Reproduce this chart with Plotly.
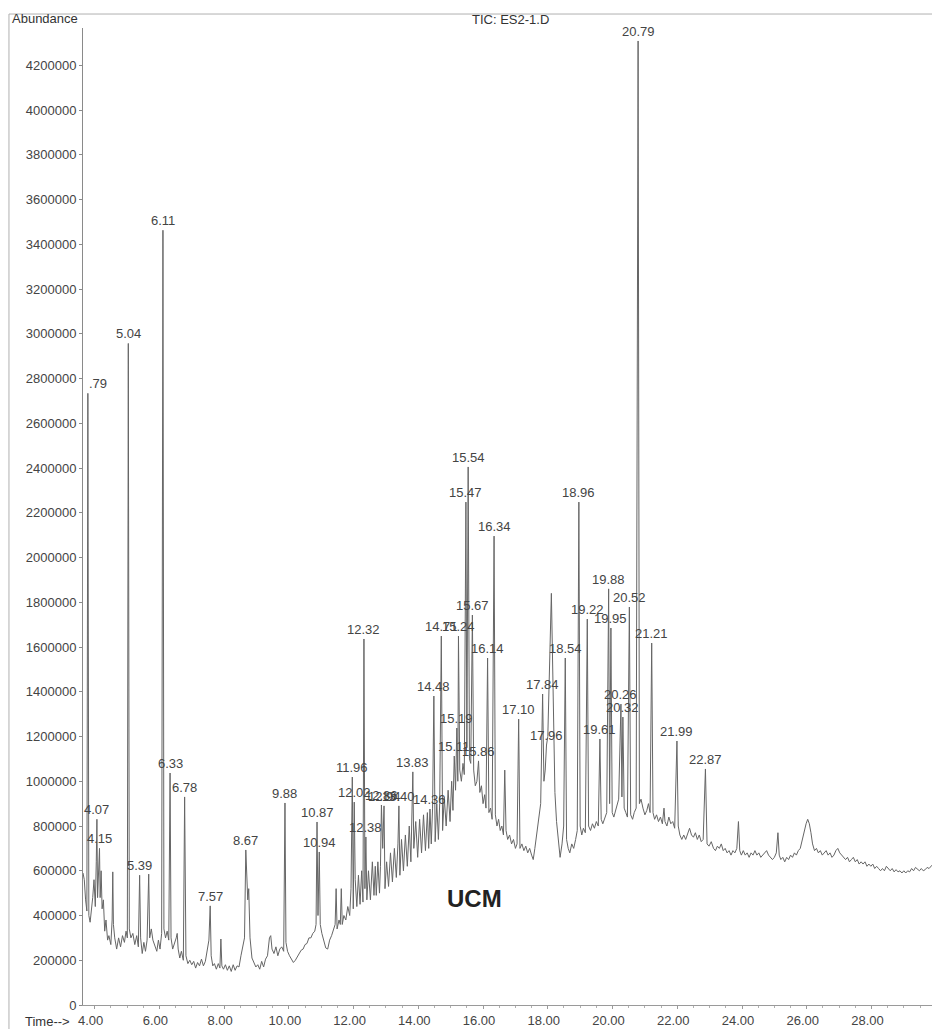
import plotly.graph_objects as go

# ---------------- data ----------------
# background trace (time in min, abundance)
base_time = [
    3.64, 3.68, 3.72, 3.76, 3.82, 3.86, 3.90, 3.94, 3.98, 4.02, 4.05, 4.09, 4.12, 4.17, 4.20,
    4.23, 4.27, 4.31, 4.35, 4.40, 4.44, 4.50, 4.54, 4.56, 4.58, 4.62, 4.68, 4.74, 4.80, 4.86,
    4.92, 4.97, 5.01, 5.07, 5.12, 5.18, 5.24, 5.30, 5.35, 5.42, 5.47, 5.52, 5.57, 5.62, 5.67,
    5.70, 5.75, 5.80, 5.86, 5.92, 5.97, 6.02, 6.07, 6.14, 6.19, 6.24, 6.29, 6.36, 6.41, 6.46,
    6.52, 6.55, 6.58, 6.63, 6.68, 6.74, 6.82, 6.88, 6.94, 7.00, 7.06, 7.12, 7.18, 7.24, 7.30,
    7.36, 7.42, 7.48, 7.53, 7.60, 7.65, 7.70, 7.76, 7.82, 7.87, 7.90, 7.93, 7.98, 8.04, 8.10,
    8.16, 8.22, 8.28, 8.34, 8.40, 8.46, 8.52, 8.58, 8.63, 8.70, 8.73, 8.76, 8.80, 8.86, 8.92,
    8.98, 9.04, 9.10, 9.16, 9.22, 9.28, 9.34, 9.40, 9.44, 9.48, 9.54, 9.60, 9.66, 9.72, 9.78,
    9.84, 9.91, 9.96, 10.02, 10.08, 10.14, 10.20, 10.26, 10.32, 10.38, 10.44, 10.50, 10.56, 10.62, 10.68,
    10.74, 10.80, 10.84, 10.90, 10.97, 11.02, 11.08, 11.14, 11.20, 11.26, 11.32, 11.38, 11.43, 11.46, 11.49,
    11.55, 11.59, 11.62, 11.65, 11.70, 11.76, 11.82, 11.88, 11.92, 11.99, 12.05, 12.10, 12.15, 12.20, 12.25,
    12.29, 12.35, 12.41, 12.46, 12.52, 12.58, 12.63, 12.67, 12.70, 12.75, 12.80, 12.83, 12.90, 12.97, 13.02,
    13.08, 13.14, 13.20, 13.26, 13.32, 13.37, 13.43, 13.48, 13.54, 13.60, 13.66, 13.72, 13.77, 13.86, 13.92,
    13.98, 14.04, 14.10, 14.16, 14.22, 14.28, 14.32, 14.40, 14.44, 14.52, 14.57, 14.62, 14.66, 14.75, 14.80,
    14.86, 14.92, 14.98, 15.03, 15.07, 15.15, 15.22, 15.28, 15.33, 15.38, 15.42, 15.50, 15.58, 15.62, 15.71,
    15.76, 15.81, 15.90, 15.95, 16.00, 16.05, 16.09, 16.18, 16.23, 16.28, 16.38, 16.43, 16.48, 16.53, 16.58,
    16.63, 16.67, 16.71, 16.76, 16.82, 16.88, 16.94, 17.00, 17.05, 17.14, 17.20, 17.26, 17.32, 17.38, 17.44,
    17.50, 17.55, 17.60, 17.66, 17.72, 17.78, 17.88, 17.92, 18.00, 18.04, 18.08, 18.11, 18.14, 18.18, 18.22,
    18.27, 18.32, 18.38, 18.44, 18.49, 18.58, 18.63, 18.68, 18.74, 18.80, 18.86, 18.91, 19.00, 19.05, 19.10,
    19.16, 19.26, 19.32, 19.38, 19.44, 19.50, 19.56, 19.65, 19.70, 19.76, 19.82, 19.91, 19.99, 20.04, 20.09,
    20.14, 20.19, 20.29, 20.36, 20.41, 20.46, 20.56, 20.62, 20.67, 20.73, 20.83, 20.88, 20.94, 21.00, 21.06,
    21.11, 21.16, 21.25, 21.30, 21.36, 21.42, 21.48, 21.54, 21.59, 21.62, 21.68, 21.74, 21.80, 21.86, 21.92,
    22.03, 22.08, 22.14, 22.20, 22.26, 22.32, 22.38, 22.44, 22.50, 22.56, 22.62, 22.68, 22.74, 22.80, 22.92,
    22.98, 23.05, 23.12, 23.18, 23.24, 23.30, 23.36, 23.42, 23.48, 23.54, 23.60, 23.66, 23.72, 23.78, 23.84,
    23.89, 23.93, 23.98, 24.04, 24.10, 24.16, 24.22, 24.28, 24.34, 24.40, 24.46, 24.52, 24.58, 24.64, 24.70,
    24.76, 24.82, 24.88, 24.94, 25.00, 25.06, 25.11, 25.15, 25.20, 25.26, 25.32, 25.38, 25.44, 25.50, 25.56,
    25.62, 25.68, 25.74, 25.80, 25.86, 25.92, 25.98, 26.03, 26.08, 26.13, 26.18, 26.24, 26.30, 26.36, 26.42,
    26.48, 26.54, 26.60, 26.66, 26.72, 26.78, 26.84, 26.90, 26.96, 27.02, 27.08, 27.14, 27.20, 27.26, 27.32,
    27.38, 27.44, 27.50, 27.56, 27.62, 27.68, 27.74, 27.80, 27.86, 27.92, 27.98, 28.04, 28.10, 28.16, 28.22,
    28.28, 28.34, 28.40, 28.46, 28.52, 28.58, 28.64, 28.70, 28.76, 28.82, 28.88, 28.94, 29.00, 29.06, 29.12,
    29.18, 29.24, 29.30, 29.36, 29.42, 29.48, 29.54, 29.60, 29.66, 29.72, 29.78, 29.84, 29.87,
]
base_abund = [
    590000, 560000, 470000, 420000, 400000, 370000, 420000, 480000, 560000, 440000, 640000, 480000, 620000, 480000, 600000,
    430000, 470000, 330000, 380000, 290000, 310000, 270000, 380000, 595000, 360000, 300000, 250000, 300000, 260000, 310000,
    280000, 330000, 300000, 340000, 300000, 320000, 270000, 310000, 260000, 300000, 230000, 280000, 240000, 290000, 585000,
    300000, 340000, 290000, 260000, 240000, 290000, 250000, 320000, 340000, 300000, 330000, 290000, 300000, 250000, 270000,
    300000, 320000, 250000, 210000, 240000, 200000, 220000, 185000, 200000, 180000, 195000, 165000, 190000, 175000, 205000,
    175000, 195000, 240000, 290000, 220000, 175000, 185000, 160000, 185000, 165000, 295000, 175000, 160000, 180000, 155000,
    175000, 150000, 180000, 155000, 175000, 170000, 220000, 260000, 300000, 590000, 470000, 520000, 300000, 210000, 190000,
    170000, 180000, 160000, 195000, 170000, 205000, 220000, 300000, 310000, 250000, 230000, 260000, 220000, 250000, 260000,
    240000, 280000, 240000, 220000, 205000, 190000, 200000, 215000, 225000, 245000, 250000, 270000, 275000, 300000, 300000,
    320000, 330000, 360000, 400000, 360000, 320000, 280000, 255000, 250000, 290000, 310000, 340000, 360000, 520000, 340000,
    380000, 360000, 520000, 360000, 400000, 380000, 440000, 400000, 520000, 430000, 560000, 440000, 580000, 450000, 600000,
    460000, 520000, 470000, 600000, 470000, 640000, 490000, 620000, 490000, 640000, 500000, 620000, 700000, 520000, 640000,
    530000, 680000, 550000, 700000, 570000, 720000, 580000, 740000, 600000, 760000, 620000, 800000, 640000, 700000, 820000,
    660000, 830000, 680000, 850000, 690000, 860000, 700000, 720000, 880000, 730000, 900000, 740000, 900000, 780000, 930000,
    800000, 960000, 820000, 1000000, 870000, 960000, 1000000, 1050000, 1000000, 1080000, 1030000, 1150000, 1100000, 1080000, 1050000,
    980000, 1000000, 950000, 980000, 900000, 940000, 880000, 860000, 880000, 830000, 850000, 800000, 830000, 780000, 800000,
    760000, 1050000, 780000, 740000, 760000, 720000, 740000, 700000, 720000, 700000, 720000, 690000, 710000, 680000, 700000,
    670000, 650000, 700000, 760000, 820000, 900000, 1000000, 1050000, 1200000, 1450000, 1750000, 1840000, 1600000, 1200000, 950000,
    820000, 740000, 660000, 720000, 800000, 740000, 700000, 680000, 720000, 700000, 740000, 780000, 800000, 760000, 790000,
    770000, 800000, 780000, 810000, 790000, 820000, 800000, 830000, 810000, 840000, 860000, 900000, 860000, 840000, 870000,
    900000, 920000, 930000, 880000, 860000, 840000, 850000, 830000, 860000, 880000, 900000, 920000, 880000, 850000, 870000,
    900000, 860000, 860000, 830000, 850000, 820000, 840000, 810000, 880000, 820000, 800000, 840000, 810000, 820000, 790000,
    800000, 760000, 740000, 760000, 740000, 770000, 790000, 760000, 750000, 770000, 740000, 760000, 730000, 740000, 720000,
    710000, 730000, 700000, 690000, 710000, 700000, 720000, 690000, 700000, 680000, 690000, 670000, 690000, 680000, 700000,
    820000, 690000, 670000, 690000, 670000, 680000, 660000, 680000, 670000, 690000, 670000, 680000, 660000, 670000, 680000,
    690000, 670000, 660000, 650000, 660000, 680000, 770000, 670000, 650000, 660000, 640000, 660000, 650000, 670000, 660000,
    680000, 670000, 690000, 700000, 740000, 780000, 810000, 830000, 810000, 770000, 720000, 690000, 700000, 680000, 690000,
    670000, 680000, 690000, 670000, 680000, 660000, 670000, 690000, 700000, 680000, 670000, 660000, 650000, 660000, 640000,
    650000, 660000, 640000, 650000, 630000, 640000, 630000, 640000, 620000, 630000, 620000, 630000, 610000, 620000, 610000,
    600000, 610000, 600000, 620000, 610000, 600000, 610000, 595000, 605000, 595000, 600000, 590000, 600000, 590000, 600000,
    595000, 610000, 600000, 615000, 605000, 600000, 610000, 600000, 605000, 615000, 610000, 620000, 625000,
]

# labelled peaks
peak_label = [".79", "4.07", "4.15", "5.04", "5.39", "6.11", "6.33", "6.78", "7.57", "8.67",
              "9.88", "10.87", "10.94", "11.96", "12.02", "12.32", "12.38", "12.86", "12.94", "13.40",
              "13.83", "14.36", "14.48", "14.71", "15.11", "15.19", "15.24", "15.47", "15.54", "15.67",
              "15.86", "16.14", "16.34", "17.10", "17.84", "17.96", "18.54", "18.96", "19.22", "19.61",
              "19.88", "19.95", "20.26", "20.32", "20.52", "20.79", "21.21", "21.99", "22.87"]
peak_time = [3.79, 4.07, 4.15, 5.04, 5.39, 6.11, 6.33, 6.78, 7.57, 8.67,
             9.88, 10.87, 10.94, 11.96, 12.02, 12.32, 12.38, 12.86, 12.94, 13.40,
             13.83, 14.36, 14.48, 14.71, 15.11, 15.19, 15.24, 15.47, 15.54, 15.67,
             15.86, 16.14, 16.34, 17.10, 17.84, 17.96, 18.54, 18.96, 19.22, 19.61,
             19.88, 19.95, 20.26, 20.32, 20.52, 20.79, 21.21, 21.99, 22.87]
peak_abund = [2734000, 830000, 700000, 2957000, 580000, 3463000, 1037000, 930000, 443000, 693000,
              903000, 818000, 684000, 1019000, 907000, 1636000, 751000, 894000, 890000, 890000,
              1042000, 876000, 1381000, 1649000, 1113000, 1238000, 1649000, 2248000, 2405000, 1743000,
              1091000, 1551000, 2096000, 1278000, 1390000, 1162000, 1551000, 2248000, 1725000, 1189000,
              1860000, 1685000, 1345000, 1287000, 1779000, 4309000, 1618000, 1180000, 1055000]

y_ticks = list(range(0, 4200001, 200000))
x_ticks = [4, 6, 8, 10, 12, 14, 16, 18, 20, 22, 24, 26, 28]

# ---------------- build figure ----------------
pts = sorted(zip(base_time + peak_time, base_abund + peak_abund))
t_all = [p[0] for p in pts]
v_all = [p[1] for p in pts]

FONT = "Liberation Sans, Arial, sans-serif"
TXT = "#444444"

fig = go.Figure()
fig.add_trace(go.Scatter(x=t_all, y=v_all, mode="lines",
                         line=dict(color="#666666", width=1), hoverinfo="skip",
                         showlegend=False))

ann = []
for lab, t, v in zip(peak_label, peak_time, peak_abund):
    left = lab.startswith(".")
    ann.append(dict(x=t, y=v, text=lab, showarrow=False, xref="x", yref="y",
                    xanchor="left" if left else "center", yanchor="bottom",
                    xshift=-1 if left else 0, yshift=0,
                    font=dict(family=FONT, size=13, color=TXT)))

ann.append(dict(x=15.75, y=478000, text="<b>UCM</b>", showarrow=False,
                xref="x", yref="y", xanchor="center", yanchor="middle",
                font=dict(family=FONT, size=24, color="#222222")))
ann.append(dict(x=-0.086, y=1.0102, xref="paper", yref="paper", text="Abundance",
                showarrow=False, xanchor="left", yanchor="middle",
                font=dict(family=FONT, size=13, color="#333333")))
ann.append(dict(x=0.503, y=1.0082, xref="paper", yref="paper", text="TIC: ES2-1.D",
                showarrow=False, xanchor="center", yanchor="middle",
                font=dict(family=FONT, size=13, color="#333333")))
ann.append(dict(x=-0.0707, y=-0.0174, xref="paper", yref="paper", text="Time-->",
                showarrow=False, xanchor="left", yanchor="middle",
                font=dict(family=FONT, size=13, color="#333333")))

shapes = [
    dict(type="line", xref="paper", yref="paper", x0=-0.0872, x1=1.0, y0=1.0143, y1=1.0143,
         line=dict(color="#b0b0b0", width=1)),
    dict(type="line", xref="paper", yref="paper", x0=-0.0872, x1=-0.0872, y0=-0.0246, y1=1.0143,
         line=dict(color="#b0b0b0", width=1)),
]

fig.update_layout(
    width=932, height=1029,
    margin=dict(l=83, r=0, t=28, b=24, pad=0),
    paper_bgcolor="white", plot_bgcolor="white",
    annotations=ann, shapes=shapes, showlegend=False,
    font=dict(family=FONT, size=13, color=TXT),
)
fig.update_xaxes(range=[3.64, 29.87], tickvals=x_ticks, tickformat=".2f",
                 showgrid=False, zeroline=False, showline=True, linecolor="#9a9a9a",
                 linewidth=1, ticks="outside", ticklen=3, tickcolor="#9a9a9a",
                 ticklabelshift=-4,
                 minor=dict(dtick=0.5, ticks="outside", ticklen=2, tickcolor="#b0b0b0"),
                 tickfont=dict(family=FONT, size=13, color=TXT))
fig.update_yaxes(range=[0, 4367000], tickvals=y_ticks, tickformat="d",
                 showgrid=False, zeroline=False, showline=True, linecolor="#8a8a8a",
                 linewidth=1, ticks="outside", ticklen=3, tickcolor="#8a8a8a",
                 tickfont=dict(family=FONT, size=13, color=TXT))

fig.write_html("out.html")
